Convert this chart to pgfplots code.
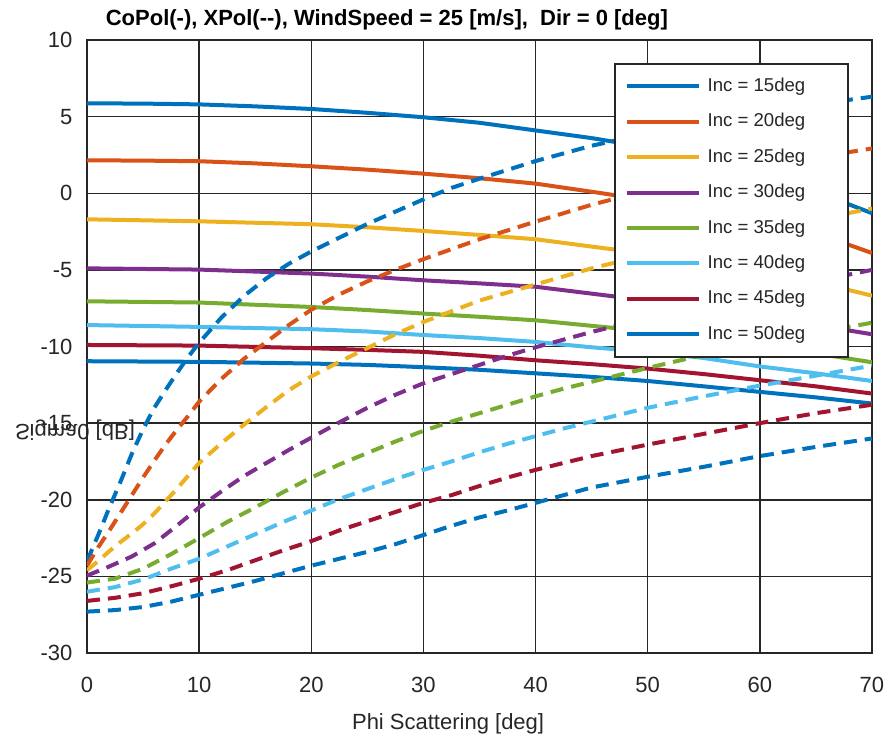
\documentclass[border=0pt]{standalone}
\usepackage{pgfplots}
\pgfplotsset{compat=1.18}
\usepackage{fontspec}
\setmainfont{Liberation Sans}
\definecolor{c1}{HTML}{0072BD}
\definecolor{c2}{HTML}{D95319}
\definecolor{c3}{HTML}{EDB120}
\definecolor{c4}{HTML}{7E2F8E}
\definecolor{c5}{HTML}{77AC30}
\definecolor{c6}{HTML}{4DBEEE}
\definecolor{c7}{HTML}{A2142F}
\definecolor{fg}{HTML}{262626}
\begin{document}
\begin{tikzpicture}
\useasboundingbox (-43.5pt,-41.5pt) rectangle (401.5pt,326.5pt);
\begin{axis}[
  scale only axis, width=392.5pt, height=306.5pt,
  xmin=0, xmax=70, ymin=-30, ymax=10,
  xtick={0,10,...,70}, ytick={-30,-25,...,10},
  grid=major, major grid style={line width=0.75pt, color=fg},
  axis line style={line width=0.9pt, color=fg},
  tick style={color=fg, line width=0.75pt}, tick align=inside, major tick length=4pt,
  ticklabel style={font=\fontsize{11}{13}\selectfont, color=fg},
  /pgf/number format/assume math mode=true,
  xticklabel style={yshift=-8.3pt},
  yticklabel style={xshift=-3.8pt},
  title={CoPol(-), XPol(-{}-), WindSpeed = 25 [m/s],~ Dir = 0 [deg]},
  title style={at={(axis description cs:0.382,1)}, anchor=base, yshift=1.2pt, font=\bfseries\fontsize{11}{13}\selectfont},
  xlabel={Phi Scattering [deg]},
  xlabel style={at={(axis description cs:0.46,0)}, anchor=base, yshift=-38.4pt, font=\fontsize{11}{13}\selectfont, color=fg},
  ylabel={Sigma0 [dB]},
  ylabel style={at={(axis description cs:-0.0153,0.3638)}, rotate=-90, yscale=-1, anchor=center, font=\fontsize{11}{13}\selectfont, color=fg},
  legend style={at={(axis description cs:0.9707,0.9625)}, anchor=north east, draw=fg, line width=0.8pt, fill=white,
    font=\fontsize{9.3}{11}\selectfont, text=fg, inner xsep=4.8pt, inner ysep=4.8pt, row sep=4.7pt, column sep=1.5pt,
    nodes={inner sep=2pt, text height=7pt, text depth=2pt}},
  legend cell align=left,
  legend image code/.code={\draw[#1, line width=2pt] (0pt,0pt) -- (36pt,0pt);},
  every axis plot/.append style={line width=2pt},
  dsh/.style={dash pattern=on 6.5pt off 4pt, forget plot},
]
% CoPol (solid)
\addplot[c1] coordinates {(0,5.87)(5,5.85)(10,5.8)(15,5.67)(20,5.5)(25,5.25)(30,4.96)(35,4.6)(40,4.1)(45,3.6)(50,3.0)(55,2.2)(60,1.3)(65,0.1)(70,-1.3)};
\addlegendentry{\makebox[63.5pt][l]{Inc = 15deg}}
\addplot[c2] coordinates {(0,2.15)(5,2.13)(10,2.09)(15,1.95)(20,1.76)(25,1.54)(30,1.28)(35,0.98)(40,0.63)(45,0.1)(50,-0.45)(55,-1.05)(60,-1.75)(65,-2.6)(70,-3.9)};
\addlegendentry{\makebox[63.5pt][l]{Inc = 20deg}}
\addplot[c3] coordinates {(0,-1.7)(10,-1.83)(20,-2.02)(25,-2.22)(30,-2.46)(35,-2.72)(40,-3.0)(45,-3.48)(50,-3.95)(55,-4.5)(60,-5.1)(65,-5.8)(70,-6.68)};
\addlegendentry{\makebox[63.5pt][l]{Inc = 25deg}}
\addplot[c4] coordinates {(0,-4.9)(10,-4.98)(20,-5.24)(25,-5.44)(30,-5.68)(35,-5.88)(40,-6.1)(45,-6.55)(50,-7.0)(55,-7.5)(60,-8.0)(65,-8.6)(70,-9.2)};
\addlegendentry{\makebox[63.5pt][l]{Inc = 30deg}}
\addplot[c5] coordinates {(0,-7.05)(10,-7.13)(20,-7.42)(25,-7.62)(30,-7.85)(35,-8.06)(40,-8.29)(45,-8.65)(50,-9.0)(55,-9.45)(60,-9.95)(65,-10.45)(70,-11.03)};
\addlegendentry{\makebox[63.5pt][l]{Inc = 35deg}}
\addplot[c6] coordinates {(0,-8.6)(10,-8.72)(20,-8.87)(25,-9.02)(30,-9.25)(35,-9.45)(40,-9.7)(45,-10.05)(50,-10.35)(55,-10.75)(60,-11.3)(65,-11.75)(70,-12.25)};
\addlegendentry{\makebox[63.5pt][l]{Inc = 40deg}}
\addplot[c7] coordinates {(0,-9.9)(10,-9.94)(20,-10.11)(25,-10.22)(30,-10.35)(35,-10.6)(40,-10.9)(45,-11.15)(50,-11.44)(55,-11.8)(60,-12.2)(65,-12.6)(70,-13.07)};
\addlegendentry{\makebox[63.5pt][l]{Inc = 45deg}}
\addplot[c1] coordinates {(0,-10.96)(10,-11.0)(20,-11.11)(25,-11.2)(30,-11.35)(35,-11.52)(40,-11.75)(45,-11.98)(50,-12.25)(55,-12.6)(60,-12.96)(65,-13.32)(70,-13.72)};
\addlegendentry{\makebox[63.5pt][l]{Inc = 50deg}}
% XPol (dashed)
\addplot[c1, dsh] coordinates {(0,-24.0)(1,-22.3)(2,-20.5)(3,-18.8)(4,-17.0)(5,-15.4)(6,-14.0)(7,-12.85)(8,-11.75)(9,-10.7)(10,-9.75)(12,-8.1)(14,-6.7)(16,-5.55)(18,-4.6)(20,-3.8)(22.5,-2.9)(25,-2.0)(27.5,-1.2)(30,-0.4)(32.5,0.35)(35,0.95)(40,2.1)(45,3.1)(50,3.9)(55,4.6)(60,5.25)(65,5.8)(70,6.3)};
\addplot[c2, dsh] coordinates {(0,-24.3)(1,-23.1)(2,-22.0)(3,-20.85)(4,-19.7)(5,-18.55)(6,-17.45)(7,-16.4)(8,-15.45)(9,-14.55)(10,-13.6)(12,-12.1)(14,-10.8)(16,-9.7)(18,-8.6)(20,-7.6)(22.5,-6.6)(25,-5.75)(27.5,-5.0)(30,-4.3)(32.5,-3.65)(35,-3.0)(40,-1.85)(45,-0.75)(50,0.2)(55,1.0)(60,1.7)(65,2.35)(70,2.92)};
\addplot[c3, dsh] coordinates {(0,-24.6)(1,-24.0)(2,-23.35)(3,-22.75)(4,-22.2)(5,-21.6)(6,-20.9)(7,-20.1)(8,-19.3)(9,-18.45)(10,-17.6)(12,-16.3)(14,-15.1)(16,-13.95)(18,-12.85)(20,-11.95)(22.5,-11.0)(25,-10.1)(27.5,-9.2)(30,-8.4)(32.5,-7.7)(35,-7.0)(40,-5.95)(45,-4.9)(50,-4.0)(55,-3.2)(60,-2.4)(65,-1.7)(70,-1.0)};
\addplot[c4, dsh] coordinates {(0,-24.95)(2,-24.35)(4,-23.7)(6,-22.85)(8,-21.7)(10,-20.5)(12,-19.45)(14,-18.45)(16,-17.6)(18,-16.75)(20,-15.95)(22.5,-14.95)(25,-14.0)(27.5,-13.15)(30,-12.4)(32.5,-11.8)(35,-11.2)(37.5,-10.6)(40,-10.05)(42.5,-9.55)(45,-9.05)(47.5,-8.6)(50,-8.15)(55,-7.3)(60,-6.5)(65,-5.75)(70,-5.0)};
\addplot[c5, dsh] coordinates {(0,-25.4)(2.5,-25.15)(5,-24.5)(7.5,-23.55)(10,-22.5)(12.5,-21.45)(15,-20.5)(17.5,-19.5)(20,-18.55)(22.5,-17.7)(25,-16.95)(27.5,-16.2)(30,-15.5)(32.5,-14.9)(35,-14.35)(37.5,-13.8)(40,-13.25)(42.5,-12.75)(45,-12.3)(47.5,-11.85)(50,-11.4)(52.5,-10.97)(55,-10.55)(60,-9.8)(65,-9.1)(70,-8.45)};
\addplot[c6, dsh] coordinates {(0,-26.0)(2.5,-25.7)(5,-25.2)(7.5,-24.5)(10,-23.85)(12.5,-23.05)(15,-22.25)(17.5,-21.45)(20,-20.7)(22.5,-19.95)(25,-19.3)(27.5,-18.65)(30,-18.05)(32.5,-17.5)(35,-16.9)(37.5,-16.35)(40,-15.85)(42.5,-15.35)(45,-14.9)(47.5,-14.45)(50,-14.0)(55,-13.25)(60,-12.55)(65,-11.9)(70,-11.25)};
\addplot[c7, dsh] coordinates {(0,-26.6)(2.5,-26.4)(5,-26.1)(7.5,-25.65)(10,-25.15)(12.5,-24.6)(15,-23.95)(17.5,-23.3)(20,-22.7)(22.5,-22.0)(25,-21.4)(27.5,-20.8)(30,-20.2)(32.5,-19.7)(35,-19.1)(37.5,-18.55)(40,-18.05)(45,-17.15)(50,-16.4)(55,-15.7)(60,-15.0)(65,-14.35)(70,-13.8)};
\addplot[c1, dsh] coordinates {(0,-27.3)(2.5,-27.2)(5,-27.0)(7.5,-26.65)(10,-26.2)(12.5,-25.75)(15,-25.3)(17.5,-24.8)(20,-24.3)(22.5,-23.85)(25,-23.4)(27.5,-22.9)(30,-22.3)(32.5,-21.7)(35,-21.15)(37.5,-20.7)(40,-20.2)(45,-19.2)(50,-18.5)(55,-17.85)(60,-17.15)(65,-16.55)(70,-16.0)};
\end{axis}
\end{tikzpicture}
\end{document}
